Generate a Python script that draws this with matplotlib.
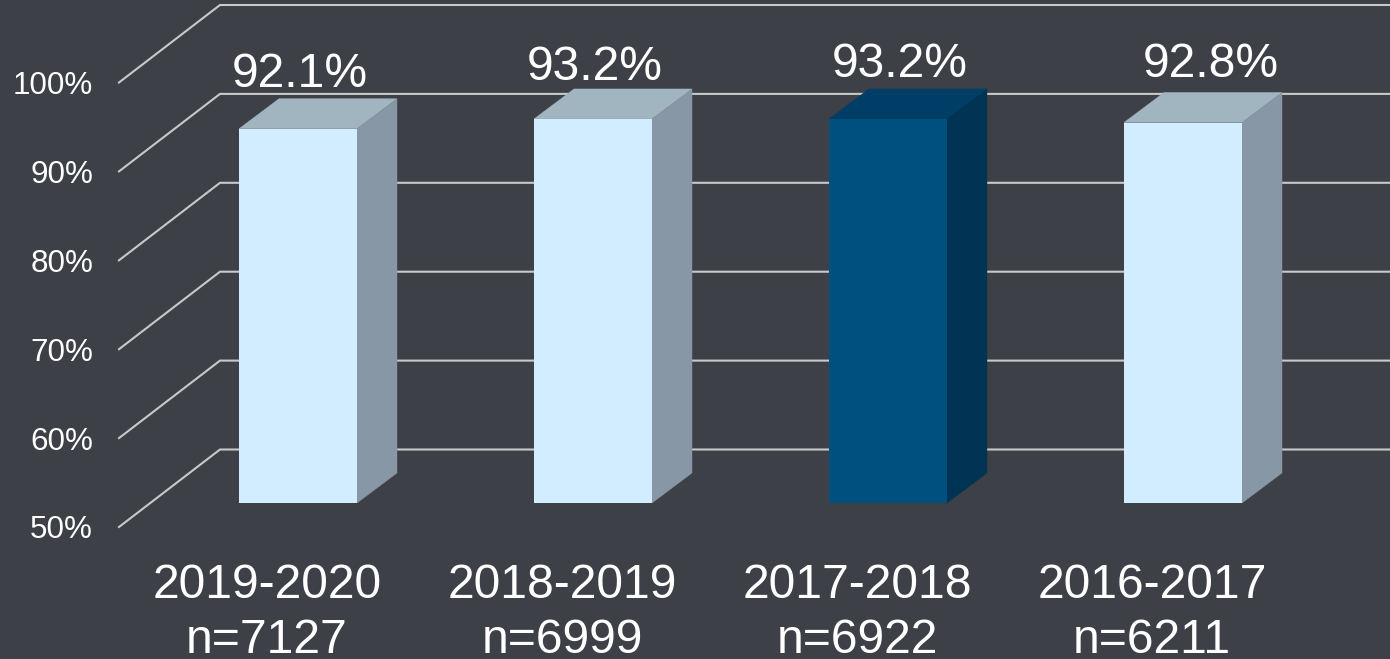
import matplotlib.pyplot as plt

plt.rcParams['font.family'] = ['Liberation Sans', 'DejaVu Sans']

seasons = ["2019-2020", "2018-2019", "2017-2018", "2016-2017"]
counts = ["n=7127", "n=6999", "n=6922", "n=6211"]
values = [92.1, 93.2, 93.2, 92.8]
ticks = [50, 60, 70, 80, 90, 100]
highlight = "2017-2018"

bg = "#3e4047"
grid_color = "#c9c9c9"
light = ("#d2edff", "#a1b5c1", "#8797a5")
dark = ("#00507f", "#003e68", "#003354")

fig = plt.figure(figsize=(13.9, 6.59), dpi=100, facecolor=bg)
ax = fig.add_axes([0, 0, 1, 1])
ax.set_xlim(-298 / 295, 1092 / 295)
ax.set_ylim(50 - 156 / 8.89, 50 + 503 / 8.89)
ax.axis("off")

# fake 3d depth, in axis units
bar_w = 118 / 295
depth_x = 40 / 295
depth_y = 30 / 8.89

# walls: front edge of the floor to the back wall
wall_left = -179 / 295
wall_back = -78 / 295
wall_front_y = -24 / 8.89
wall_back_y = 53.5 / 8.89
for t in ticks:
    ax.plot([wall_left, wall_back, 3.73], [t + wall_front_y, t + wall_back_y, t + wall_back_y],
            color=grid_color, lw=1.5, solid_joinstyle="miter", zorder=1)
    ax.text(-205 / 295, t + wall_front_y - 11.5 / 8.89, f"{t}%", color="white", fontsize=22.6,
            ha="right", va="baseline")

# label placement does not follow the bars exactly in the original
value_dx = [2 / 295, 2 / 295, 12 / 295, 28 / 295]
value_y = [87, 80, 77, 77]

for i, v in enumerate(values):
    front, top, side = dark if seasons[i] == highlight else light
    left = i - bar_w / 2
    right = i + bar_w / 2
    ax.fill([left, right, right + depth_x, left + depth_x], [v, v, v + depth_y, v + depth_y],
            color=top, lw=0.3, zorder=2)
    ax.fill([right, right + depth_x, right + depth_x, right],
            [50, 50 + depth_y, v + depth_y, v], color=side, lw=0.3, zorder=2)
    ax.bar(i, v - 50, bottom=50, width=bar_w, color=front, zorder=3)
    ax.text(i + value_dx[i], 50 + (503 - value_y[i]) / 8.89, f"{v}%", color="white",
            fontsize=34.6, ha="center", va="baseline")
    ax.text(i - 31 / 295, 50 + (503 - 598) / 8.89, seasons[i], color="white",
            fontsize=34.6, ha="center", va="baseline")
    ax.text(i - 31 / 295, 50 + (503 - 653) / 8.89, counts[i], color="white",
            fontsize=34.6, ha="center", va="baseline")

fig.savefig("out.png", dpi=100, facecolor=bg)
